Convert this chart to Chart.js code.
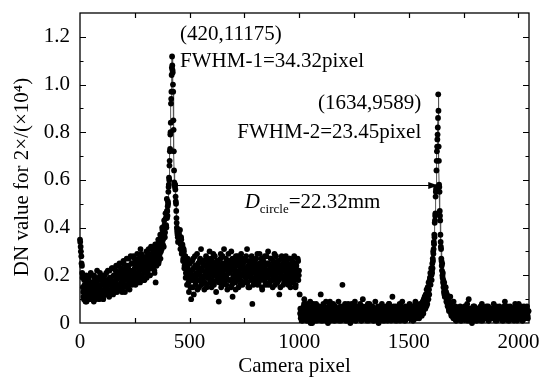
<!DOCTYPE html>
<html><head><meta charset="utf-8">
<script src="https://cdn.jsdelivr.net/npm/chart.js@4.4.0/dist/chart.umd.min.js"></script>
<style>html,body{margin:0;padding:0;background:#fff}canvas{display:block}</style>
</head><body>
<canvas id="c" width="546" height="380"></canvas>
<script>
// ---- data (camera pixel index, DN value in units of 2x10^4) ----
const bandAStart = 0, bandAStep = 3;
const bandA = [
.35,.32,.28,.24,.19,.13,.10,.16,.12,.18,
.09,.14,.17,.11,.15,.20,.10,.13,.17,.12,
.16,.09,.19,.14,.11,.17,.22,.13,.15,.10,
.18,.14,.12,.20,.16,.11,.19,.14,.17,.12,
.21,.15,.13,.18,.16,.22,.12,.19,.14,.17,
.23,.15,.20,.13,.18,.24,.16,.14,.21,.19,
.25,.15,.22,.17,.13,.20,.26,.18,.16,.23,
.21,.27,.15,.19,.24,.17,.22,.28,.20,.16,
.25,.22,.19,.27,.18,.24,.21,.29,.17,.23,
.26,.20,.31,.24,.19,.28,.22,.25,.18,.27,
.23,.30,.21,.26,.24,.29,.20,.27,.32,.23,
.28,.25,.31,.22,.29,.17,.33,.27,.30,.35,
.26,.32,.37,.30,.34,.40,.33,.38,.43,.36,
.46,.41,.52];
const bandA2Start = 1, bandA2Step = 3;
const bandA2 = [
.34,.30,.25,.21,.15,.11,.18,.14,.09,.20,
.13,.16,.10,.19,.12,.15,.21,.11,.17,.14,
.12,.20,.15,.10,.18,.13,.16,.11,.19,.14,
.21,.12,.16,.18,.13,.10,.17,.20,.15,.12,
.18,.14,.22,.16,.11,.19,.13,.17,.23,.15,
.12,.20,.17,.14,.22,.18,.13,.24,.16,.20,
.14,.19,.23,.17,.21,.15,.25,.19,.13,.22,
.18,.24,.16,.20,.27,.14,.22,.19,.25,.17,
.21,.28,.18,.23,.16,.26,.20,.24,.19,.27,
.22,.17,.25,.29,.20,.23,.27,.18,.24,.21,
.26,.19,.28,.22,.31,.24,.20,.27,.25,.29,
.23,.30,.26,.21,.33,.27,.24,.31,.28,.25,
.34,.29,.27,.36,.31,.39,.35,.32,.41,.38,
.44,.40,.47];
const peak1Start = 397, peak1Step = 1;
const peak1 = [
.44,.47,.45,.49,.51,.50,.55,.57,.58,.61,
.60,.66,.68,.72,.73,.79,.80,.84,.92,.94,
.97,1.04,1.07,1.1175,1.08,1.06,1.05,1.00,.97,.85,
.81,.72,.64,.59,.58,.58,.57,.58,.56,.53,
.51,.50,.47,.44,.42,.40,.39,.38,.37,.36,.34];
const bandBStart = 450, bandBStep = 3;
const bandB = [
.38,.36,.39,.33,.35,.30,.32,.27,.30,.24,
.28,.21,.26,.19,.23,.17,.25,.20,.15,.10,
.22,.18,.27,.12,.20,.24,.16,.21,.29,.18,
.23,.15,.26,.20,.31,.17,.22,.25,.19,.14,
.24,.21,.27,.16,.22,.19,.25,.30,.18,.23,
.15,.26,.20,.24,.17,.28,.21,.13,.23,.19,
.26,.09,.22,.18,.29,.21,.16,.25,.20,.31,
.17,.23,.27,.19,.14,.24,.21,.26,.18,.22,
.30,.16,.11,.25,.20,.23,.17,.28,.21,.19,
.26,.15,.22,.24,.18,.29,.20,.16,.25,.21,
.27,.17,.23,.19,.31,.22,.15,.26,.20,.24,
.18,.28,.08,.21,.25,.17,.23,.19,.27,.22,
.16,.24,.20,.29,.18,.25,.21,.14,.26,.19,
.23,.28,.17,.22,.25,.20,.30,.16,.24,.21,
.27,.18,.23,.15,.26,.20,.24,.19,.28,.22,
.17,.25,.21,.12,.23,.19,.27,.20,.24,.16,
.26,.22,.18,.28,.21,.25,.17,.23,.20,.27,
.15,.24,.19,.26,.21,.18,.25,.22,.16,.24,
.20,.27,.18,.22,
.12,.06,.03,.05,.01,.04,.07,.10,.02,.05,
.03,.08,.01,.04,.06,.02,.09,.03,.05,.00,
.07,.04,.02,.06,.03,.08,.01,.05,.04,.07,
.02,.06,.12,.03,.05,.01,.08,.04,.02,.06,
.09,.03,.05,.00,.07,.04,.09,.02,.06,.03,
.05,.08,.01,.04,.07,.02,.05,.03,.06,.09,
.01,.04,.07,.03,.05,.16,.02,.06,.04,.08,
.01,.05,.03,.07,.02,.04,.06,.00,.05,.08,
.03,.06,.02,.04,.09,.01,.05,.07,.03,.04,
.06,.02,.08,.04,.01,.05,.10,.03,.06,.02,
.04,.07,.01,.05,.03,.06,.08,.02,.04,.07,
.03,.05,.01,.06,.04,.09,.02,.05,.03,.07,
.00,.04,.06,.02,.05,.08,.03,.04,.06,.01,
.05,.07,.03,.04,.02,.06,.08,.03,.05,.01,
.04,.11,.06,.02,.05,.03,.07,.04,.01,.06,
.03,.05,.08,.02,.04,.06,.09,.03,.05,.01,
.04,.07,.02,.05,.03,.06,.04,.08,.02,.05,
.03,.07,.01,.04,.06,.03,.09,.05,.02,.04,
.07,.03,.05,.08,.04,.06,
.05,.09,.04,.07,.11,.06,.10,.14,.08,.13,.17,.12,.19,.16,.23];
const bandB2Start = 452, bandB2Step = 3;
const bandB2 = [
.37,.34,.31,.36,.29,.33,.26,.31,.23,.28,
.19,.24,.16,.27,.21,.13,.25,.18,.22,.20,
.26,.15,.23,.19,.28,.17,.24,.20,.14,.25,
.21,.18,.27,.23,.16,.22,.19,.26,.24,.17,
.20,.28,.15,.23,.26,.19,.21,.17,.27,.24,
.18,.22,.29,.16,.25,.20,.23,.18,.26,.21,
.24,.17,.20,.27,.15,.23,.28,.19,.22,.18,
.25,.20,.16,.26,.22,.29,.18,.21,.24,.15,
.23,.27,.19,.17,.22,.26,.14,.24,.20,.28,
.18,.21,.25,.16,.23,.27,.20,.24,.17,.22,
.26,.19,.28,.21,.17,.24,.20,.15,.25,.22,
.19,.23,.27,.16,.21,.26,.18,.24,.20,.29,
.22,.17,.25,.19,.23,.27,.15,.21,.26,.18,
.24,.20,.16,.28,.22,.19,.25,.21,.17,.23,
.27,.20,.24,.18,.22,.29,.16,.25,.21,.19,
.23,.26,.18,.21,.15,.24,.28,.19,.22,.25,
.17,.23,.20,.26,.19,.24,.16,.21,.27,.22,
.18,.25,.21,.17,.23,.28,.20,.15,.24,.19,
.22,.26,.20];
const bandL2Start = 1004, bandL2Step = 3;
const bandL2 = [
.04,.02,.06,.01,.05,.03,.08,.02,.04,.06,
.01,.05,.03,.07,.02,.04,.00,.06,.03,.05,
.08,.02,.04,.01,.06,.03,.05,.02,.07,.04,
.03,.05,.01,.06,.04,.02,.07,.03,.05,.01,
.04,.06,.02,.05,.03,.08,.01,.04,.06,.02,
.05,.03,.07,.01,.04,.02,.06,.03,.05,.04,
.02,.06,.01,.05,.03,.07,.04,.02,.05,.03,
.06,.01,.04,.08,.02,.05,.03,.06,.01,.04,
.03,.07,.02,.05,.04,.01,.06,.03,.05,.02,
.04,.06,.03,.01,.05,.07,.02,.04,.03,.06,
.02,.05,.04,.08,.01,.03,.06,.02,.05,.04,
.07,.03,.01,.05,.02,.06,.04,.03,.05,.01,
.04,.06,.02,.05,.03,.07,.01,.04,.06,.02,
.05,.03,.06,.01,.04,.08,.02,.05,.03,.06,
.02,.04,.07,.03,.05,.01,.06,.04,.02,.05,
.03,.06,.01,.04,.07,.02,.05,.03,.06,.04,
.01,.05,.03,.06,.02,.04,.07,.03,.05,.02,
.04,.06,.01,.05,.03,.08,.02,.04,.06,.03,
.05,.02,.06,.04,.07,.03,.08,.05,.10,.06,
.09,.12,.07,.11,.15,.10,.14,.18,.21];
const peak2Start = 1603, peak2Step = 1;
const peak2 = [
.20,.18,.22,.21,.25,.23,.27,.26,.30,.29,
.31,.34,.33,.37,.36,.42,.43,.45,.46,.53,
.55,.56,.57,.64,.68,.72,.74,.77,.79,.82,
.86,.9589,.89,.74,.68,.58,.57,.55,.47,.45,
.43,.37,.34,.32,.31,.27,.26,.24,.22,.25,
.20,.19,.21,.17,.18,.15,.16,.13,.17,.12,
.14,.11,.13];
const bandCStart = 1668, bandCStep = 3;
const bandC = [
.15,.09,.12,.07,.10,.05,.08,.11,.04,.07,
.03,.06,.09,.02,.05,.07,.01,.04,.06,.03,
.05,.02,.07,.04,.01,.05,.03,.06,.02,.04,
.07,.03,.05,.01,.04,.10,.02,.06,.03,.05,
.00,.04,.07,.02,.05,.03,.06,.01,.04,.06,
.02,.05,.03,.07,.04,.08,.01,.05,.03,.06,
.02,.04,.07,.03,.05,.01,.04,.06,.02,.05,
.03,.06,.04,.08,.02,.05,.03,.07,.01,.04,
.06,.03,.05,.02,.06,.04,.01,.05,.03,.07,
.09,.02,.05,.04,.06,.01,.05,.03,.07,.02,
.04,.06,.03,.05,.01,.04,.07,.02,.05,.03,
.06,.08,.02,.04,.06,.03,.05,.01,.04,.07,
.02,.05,.03,.06,.04,.02,.05];
const bandC2Start = 1670, bandC2Step = 3;
const bandC2 = [
.13,.10,.08,.11,.06,.09,.05,.07,.03,.06,
.04,.02,.05,.03,.06,.01,.04,.05,.02,.06,
.03,.05,.01,.04,.06,.02,.05,.03,.07,.04,
.02,.05,.08,.03,.06,.01,.04,.02,.05,.03,
.06,.02,.04,.07,.03,.05,.01,.06,.04,.02,
.05,.03,.06,.01,.04,.07,.02,.05,.03,.06,
.04,.02,.05,.03,.07,.01,.04,.06,.02,.05,
.03,.06,.02,.04,.05,.01,.06,.03,.05,.02,
.04,.07,.03,.05,.02,.06,.04,.01,.05,.03,
.06,.02,.04,.07,.03,.05,.01,.04,.06,.02,
.05,.03,.06,.02,.04,.08,.03,.05,.01,.06,
.04,.02,.05,.03,.07,.04,.01,.05,.03,.06,
.02,.05,.04,.07,.03,.05];

const xTickValues = [0, 500, 1000, 1500, 2000];
const yTickValues = [0, 0.2, 0.4, 0.6, 0.8, 1.0, 1.2];
const xTitle = 'Camera pixel';
const yTitle = 'DN value for 2×/(×10⁴)';
const peakInfo = [
  {pixel: 420, value: 1.1175, coord: '(420,11175)', fwhm: 'FWHM-1=34.32pixel'},
  {pixel: 1634, value: 0.9589, coord: '(1634,9589)', fwhm: 'FWHM-2=23.45pixel'}
];
const distance = {from: 420, to: 1634, level: 0.58, value: '=22.32mm'};

// ---- build points ----
function pts(start, step, arr){ return arr.map((v,i)=>({x:start+i*step, y:v})); }

const FONT = '"Liberation Serif", "Times New Roman", serif';

const overlay = {
  id: 'overlay',
  beforeDatasetsDraw(chart){
    const {ctx, chartArea:a, scales:{x, y}} = chart;
    ctx.save();
    ctx.strokeStyle = '#000';
    ctx.lineWidth = 1.3;
    ctx.strokeRect(a.left, a.top, a.right - a.left, a.bottom - a.top);
    ctx.lineWidth = 1.2;
    ctx.beginPath();
    for (let v = 250; v < x.max; v += 250) {
      const px = Math.round(x.getPixelForValue(v)) + 0.5;
      ctx.moveTo(px, a.bottom); ctx.lineTo(px, a.bottom - 5);
      ctx.moveTo(px, a.top); ctx.lineTo(px, a.top + 5);
    }
    for (let k = 1; k <= 12; k++) {
      const py = Math.round(y.getPixelForValue(k / 10)) + 0.5;
      const len = k % 2 === 0 ? 6 : 3.5;
      ctx.moveTo(a.left, py); ctx.lineTo(a.left + len, py);
      ctx.moveTo(a.right, py); ctx.lineTo(a.right - len, py);
    }
    ctx.stroke();
    // axis titles
    ctx.fillStyle = '#000';
    ctx.font = '21px ' + FONT;
    ctx.textAlign = 'center';
    ctx.textBaseline = 'alphabetic';
    ctx.fillText(xTitle, (a.left + a.right) / 2 - 10, 372);
    ctx.save();
    ctx.translate(22, (a.top + a.bottom) / 2 + 9);
    ctx.rotate(-Math.PI / 2);
    ctx.textBaseline = 'middle';
    ctx.fillText(yTitle, 0, 0);
    ctx.restore();
    ctx.restore();
  },
  afterDatasetsDraw(chart){
    const {ctx, scales:{x, y}} = chart;
    ctx.save();
    ctx.fillStyle = '#000';
    ctx.strokeStyle = '#000';
    ctx.font = '21px ' + FONT;
    ctx.textBaseline = 'alphabetic';
    // peak 1 labels
    const p1 = x.getPixelForValue(peakInfo[0].pixel);
    ctx.textAlign = 'left';
    ctx.fillText(peakInfo[0].coord, p1 + 8, y.getPixelForValue(1.187));
    ctx.fillText(peakInfo[0].fwhm, p1 + 8, y.getPixelForValue(1.073));
    // peak 2 labels
    const p2 = x.getPixelForValue(peakInfo[1].pixel);
    ctx.textAlign = 'right';
    ctx.fillText(peakInfo[1].coord, p2 - 17, y.getPixelForValue(0.897));
    ctx.fillText(peakInfo[1].fwhm, p2 - 17, y.getPixelForValue(0.776));
    // arrow
    const ay = Math.round(y.getPixelForValue(distance.level)) + 0.5;
    const ax0 = x.getPixelForValue(distance.from), ax1 = x.getPixelForValue(distance.to);
    ctx.lineWidth = 1.2;
    ctx.beginPath(); ctx.moveTo(ax0, ay); ctx.lineTo(ax1 - 6, ay); ctx.stroke();
    ctx.beginPath(); ctx.moveTo(ax1, ay); ctx.lineTo(ax1 - 10, ay - 3.5); ctx.lineTo(ax1 - 10, ay + 3.5); ctx.closePath(); ctx.fill();
    // D_circle label
    ctx.textAlign = 'left';
    let tx = x.getPixelForValue(751);
    const base = y.getPixelForValue(0.482);
    ctx.font = 'italic 21px ' + FONT;
    ctx.fillText('D', tx, base); tx += ctx.measureText('D').width;
    ctx.font = '13px ' + FONT;
    ctx.fillText('circle', tx, base + 5); tx += ctx.measureText('circle').width;
    ctx.font = '21px ' + FONT;
    ctx.fillText(distance.value, tx, base);
    ctx.restore();
  }
};

const R = 2.9;
const bandStyle = {showLine:false, pointRadius:R, pointBackgroundColor:'#000', pointBorderColor:'#000', pointBorderWidth:0, pointHoverRadius:R, clip:4};
const peakStyle = {showLine:true, borderColor:'#555', borderWidth:1, pointRadius:R, pointBackgroundColor:'#000', pointBorderColor:'#000', pointBorderWidth:0, pointHoverRadius:R, clip:4, tension:0};

new Chart(document.getElementById('c'), {
  type: 'scatter',
  data: {
    datasets: [
      Object.assign({label:'A', data: pts(bandAStart, bandAStep, bandA)}, bandStyle),
      Object.assign({label:'A2', data: pts(bandA2Start, bandA2Step, bandA2)}, bandStyle),
      Object.assign({label:'B', data: pts(bandBStart, bandBStep, bandB)}, bandStyle),
      Object.assign({label:'B2', data: pts(bandB2Start, bandB2Step, bandB2)}, bandStyle),
      Object.assign({label:'L2', data: pts(bandL2Start, bandL2Step, bandL2)}, bandStyle),
      Object.assign({label:'C', data: pts(bandCStart, bandCStep, bandC)}, bandStyle),
      Object.assign({label:'C2', data: pts(bandC2Start, bandC2Step, bandC2)}, bandStyle),
      Object.assign({label:'P1', data: pts(peak1Start, peak1Step, peak1)}, peakStyle),
      Object.assign({label:'P2', data: pts(peak2Start, peak2Step, peak2)}, peakStyle)
    ]
  },
  options: {
    responsive: false,
    animation: false,
    devicePixelRatio: 1,
    layout: {padding: {top: 13, right: 17, left: 0, bottom: 0}},
    plugins: {legend: {display: false}, tooltip: {enabled: false}},
    scales: {
      x: {
        type: 'linear', min: 0, max: 2048,
        grid: {display: false, drawTicks: false},
        border: {display: false},
        afterBuildTicks: s => { s.ticks = xTickValues.map(v => ({value: v})); },
        afterFit: s => { s.height = 57; s.paddingLeft = 0; s.paddingRight = 0; },
        ticks: {color: '#000', padding: 7, maxRotation: 0, font: {family: FONT, size: 21}, callback: v => String(v)},
        title: {display: false}
      },
      y: {
        type: 'linear', min: 0, max: 1.3,
        grid: {display: false, drawTicks: false},
        border: {display: false},
        afterBuildTicks: s => { s.ticks = yTickValues.map(v => ({value: v})); },
        afterFit: s => { s.width = 80; s.paddingTop = 0; s.paddingBottom = 0; },
        ticks: {color: '#000', padding: 10, font: {family: FONT, size: 21}, callback: v => v === 0 ? '0' : Number(v).toFixed(1)},
        title: {display: false}
      }
    }
  },
  plugins: [overlay]
});
</script>
</body></html>
